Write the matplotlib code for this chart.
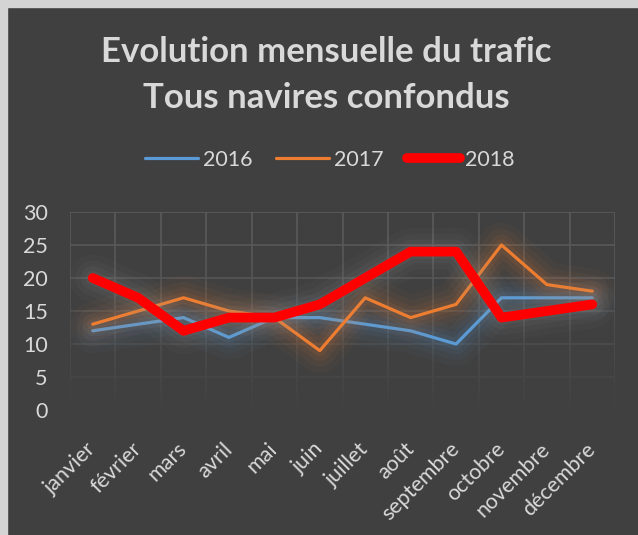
import matplotlib
matplotlib.use('Agg')
import matplotlib.pyplot as plt
import matplotlib.patheffects as pe
import matplotlib.transforms as mtransforms
import numpy as np

# Data
months = ['janvier', 'février', 'mars', 'avril', 'mai', 'juin', 'juillet',
          'août', 'septembre', 'octobre', 'novembre', 'décembre']
v2016 = [12, 13, 14, 11, 14, 14, 13, 12, 10, 17, 17, 17]
v2017 = [13, 15, 17, 15, 14, 9, 17, 14, 16, 25, 19, 18]
v2018 = [20, 17, 12, 14, 14, 16, 20, 24, 24, 14, 15, 16]
y_ticks = [0, 5, 10, 15, 20, 25, 30]

bg = '#404040'
txt = '#d9d9d9'
grid_col = '#5b5b5b'

plt.rcParams['font.family'] = ['Lato', 'DejaVu Sans']

fig = plt.figure(figsize=(6.38, 5.35), dpi=100, facecolor=bg)

# light border on top and left
fig.patches.append(plt.Rectangle((0, 0), 7 / 638, 1, transform=fig.transFigure,
                                 color='#d4d4d4', zorder=10))
fig.patches.append(plt.Rectangle((0, 1 - 7 / 535), 1, 7 / 535, transform=fig.transFigure,
                                 color='#d4d4d4', zorder=10))

ax = fig.add_axes([70 / 638, 1 - 410 / 535, 545 / 638, 198 / 535])
ax.set_facecolor(bg)
for s in ax.spines.values():
    s.set_visible(False)

x = np.arange(len(months))
ax.set_xlim(-0.5, len(months) - 0.5)
ax.set_yticks(y_ticks)
ax.set_xticks(x)
ax.set_xticks(np.arange(-0.5, len(months)), minor=True)
ax.grid(True, which='minor', axis='x', color=grid_col, lw=1.2)
ax.grid(True, which='major', axis='y', color=grid_col, lw=1.2)
ax.tick_params(which='both', length=0)
ax.tick_params(axis='y', pad=16)
ax.set_yticklabels([str(t) for t in y_ticks], color=txt, fontsize=15.5)
ax.set_xticklabels(months, rotation=45, ha='right', rotation_mode='anchor',
                   color=txt, fontsize=15.5)
ax.tick_params(axis='x', pad=15)
shift = mtransforms.ScaledTranslation(-7 / 100, -8 / 100, fig.dpi_scale_trans)
for lab in ax.get_xticklabels():
    lab.set_transform(lab.get_transform() + shift)

# fade grid toward the bottom
grad = np.linspace(0, 1, 200) ** 1.6
rgba = np.zeros((200, 1, 4))
rgba[..., :3] = matplotlib.colors.to_rgb(bg)
rgba[:, 0, 3] = grad
ax.imshow(rgba, extent=(-0.5, len(months) - 0.5, -0.3, 30.3), aspect='auto',
          zorder=2, interpolation='bilinear')
ax.set_ylim(0, 30)

def glow(color, w):
    return [pe.Stroke(linewidth=w + 30, foreground=color, alpha=0.04),
            pe.Stroke(linewidth=w + 21, foreground=color, alpha=0.05),
            pe.Stroke(linewidth=w + 13, foreground=color, alpha=0.07),
            pe.Stroke(linewidth=w + 6, foreground=color, alpha=0.09),
            pe.Normal()]

ax.plot(x, v2016, color='#5b9bd5', lw=2.3, solid_capstyle='round', zorder=3,
        label='2016', path_effects=glow('#5b9bd5', 2.3))
ax.plot(x, v2017, color='#ed7d31', lw=2.3, solid_capstyle='round', zorder=3,
        label='2017', path_effects=glow('#ed7d31', 2.3))
ax.plot(x, v2018, color='#ff0000', lw=7, solid_capstyle='round', zorder=4,
        label='2018', path_effects=glow('#9a9a9a', 4))

leg = fig.legend(loc='center', bbox_to_anchor=(330 / 638, 1 - 160 / 535), ncol=3,
                 frameon=False, fontsize=15.5, handlelength=2.46, handletextpad=0.23,
                 columnspacing=1.1)
for t in leg.get_texts():
    t.set_color(txt)
for h in leg.get_lines():
    h.set_path_effects([])

fig.text(326 / 638, 1 - 52 / 535, 'Evolution mensuelle du trafic', ha='center',
         va='center', fontsize=25, fontweight='bold', color=txt)
fig.text(326 / 638, 1 - 98 / 535, 'Tous navires confondus', ha='center',
         va='center', fontsize=25, fontweight='bold', color=txt)

fig.savefig('out.png', dpi=100, facecolor=bg)
